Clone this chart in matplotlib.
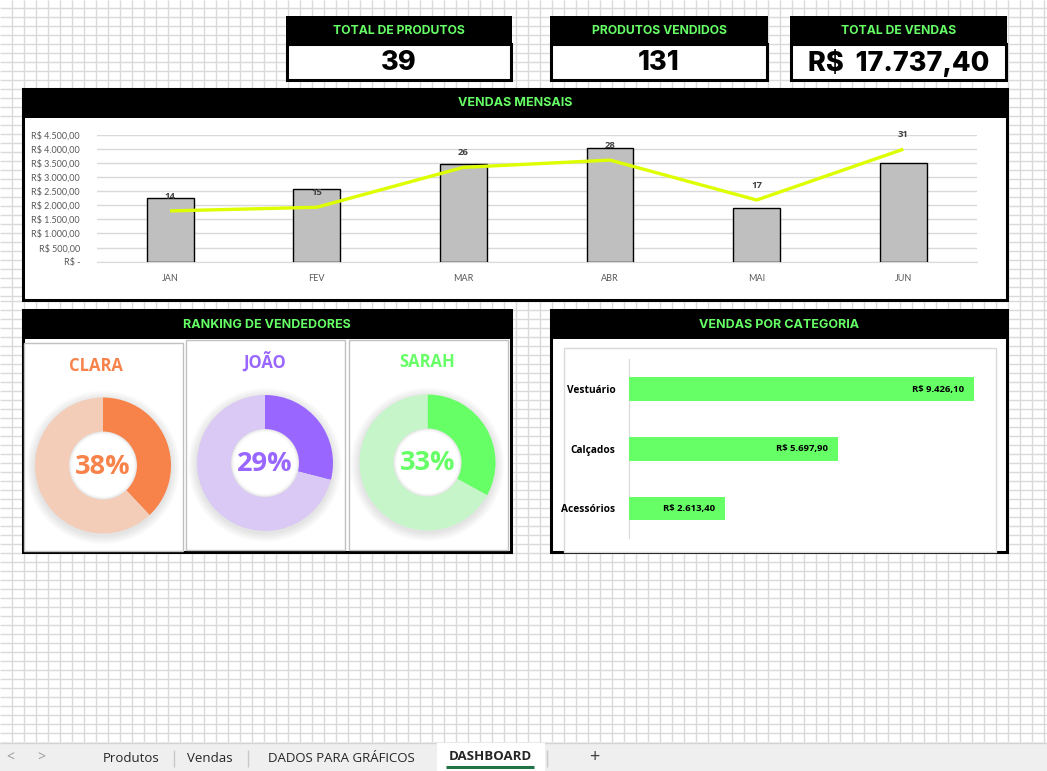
import matplotlib
matplotlib.use('Agg')
import matplotlib.pyplot as plt
from matplotlib.patches import Rectangle, Circle
import numpy as np

# ---------------- data ----------------
kpi_titles = ['TOTAL DE PRODUTOS', 'PRODUTOS VENDIDOS', 'TOTAL DE VENDAS']
kpi_values = ['39', '131', 'R$  17.737,40']

months = ['JAN', 'FEV', 'MAR', 'ABR', 'MAI', 'JUN']
monthly_sales = [2240.0, 2590.0, 3450.0, 4040.0, 1920.0, 3497.4]
monthly_qty = [14, 15, 26, 28, 17, 31]

sellers = ['CLARA', 'JOÃO', 'SARAH']
seller_pct = [38, 29, 33]

categories = ['Vestuário', 'Calçados', 'Acessórios']
category_sales = [9426.10, 5697.90, 2613.40]

sheet_tabs = ['Produtos', 'Vendas', 'DADOS PARA GRÁFICOS', 'DASHBOARD']

# ---------------- styles ----------------
W, H = 1047, 771
GREEN = '#66FF66'
HEAD_FONT = 'Inter'
BODY_FONT = 'Lato'
BOLD_FONT = 'Open Sans'
seller_dark = ['#F7834A', '#9966FF', '#66FF66']
seller_light = ['#F3CDB8', '#D9C9F4', '#C6F5C9']


def brl(v):
    s = f"{v:,.2f}"
    return 'R$ ' + s.replace(',', '#').replace('.', ',').replace('#', '.')


fig = plt.figure(figsize=(W / 100, H / 100), dpi=100)
bg = fig.add_axes([0, 0, 1, 1])
bg.set_xlim(0, W)
bg.set_ylim(H, 0)
bg.axis('off')


def px_axes(x0, y0, x1, y1):
    return fig.add_axes([x0 / W, 1 - y1 / H, (x1 - x0) / W, (y1 - y0) / H])


# Excel grid
GRID = '#dadada'
xs = np.arange(11.7, W, 12)
bg.vlines(xs, 0, 742, color=GRID, lw=1, zorder=0)
ys_top = np.arange(8, 305, 9)
ys_bot = np.arange(571, 742, 9)
ys_mid = np.arange(571 - 9, 300, -9)
bg.hlines(np.concatenate([ys_top, ys_mid, ys_bot]), 0, W, color=GRID, lw=1, zorder=0)


def rect(x0, y0, x1, y1, fc='white', ec='none', lw=0, z=2):
    bg.add_patch(Rectangle((x0, y0), x1 - x0, y1 - y0, facecolor=fc,
                           edgecolor=ec, lw=lw, zorder=z))


# ---------------- KPI boxes ----------------
kpi_x = [(287, 511), (551, 767), (791, 1006)]
for (x0, x1), t, v in zip(kpi_x, kpi_titles, kpi_values):
    rect(x0, 44, x1, 80, fc='white', ec='black', lw=2.2)
    rect(x0 - 1, 16, x1 + 1, 45, fc='black')
    bg.text((x0 + x1) / 2, 30.5, t, color=GREEN, fontsize=8.8, fontweight='bold',
            family=HEAD_FONT, ha='center', va='center', zorder=5)
    bg.text((x0 + x1) / 2, 63, v, color='black', fontsize=19.5, fontweight='heavy',
            family=HEAD_FONT, ha='center', va='center', zorder=5)

# ---------------- panels ----------------
panels = [((23, 89, 1007, 300), 'VENDAS MENSAIS'),
          ((23, 310, 511, 552), 'RANKING DE VENDEDORES'),
          ((551, 310, 1007, 552), 'VENDAS POR CATEGORIA')]
for (x0, y0, x1, y1), t in panels:
    rect(x0, y0, x1, y1, fc='white', ec='black', lw=2.2)
    rect(x0 - 1, y0 - 1, x1 + 1, y0 + 29, fc='black')
    bg.text((x0 + x1) / 2, y0 + 14.5, t, color=GREEN, fontsize=9, fontweight='bold',
            family=HEAD_FONT, ha='center', va='center', zorder=5)

# inner frames
rect(564, 348, 995.5, 552, fc='white', ec='#d9d9d9', lw=1, z=3)
cards = [(24, 343, 183, 551), (186, 340, 345, 550), (349, 340, 508, 550)]
for c in cards:
    rect(*c, fc='white', ec='#c0c0c0', lw=1, z=3)

# ---------------- monthly chart ----------------
ax = px_axes(96.7, 134.7, 976.7, 261.7)
ax.set_facecolor('none')
x = np.arange(len(months))
ax.bar(x, monthly_sales, width=0.32, color='#bfbfbf', edgecolor='black', lw=1, zorder=3)
ax.set_xlim(-0.5, len(months) - 0.5)
ax.set_ylim(0, 4500)
ticks = np.arange(0, 4501, 500)
ax.set_yticks(ticks)
ax.set_yticklabels(['R$ -' if t == 0 else brl(t) for t in ticks])
ax.grid(axis='y', color='#d9d9d9', lw=1, zorder=0)
ax.set_xticks(x)
ax.set_xticklabels(months)
ax.tick_params(axis='both', length=0, labelsize=6.5, labelcolor='#595959')
ax.tick_params(axis='y', pad=12)
ax.tick_params(axis='x', pad=9)
for lab in ax.get_xticklabels() + ax.get_yticklabels():
    lab.set_family(BODY_FONT)
for s in ['top', 'right', 'left']:
    ax.spines[s].set_visible(False)
ax.spines['bottom'].set_color('#d9d9d9')
ax2 = ax.twinx()
ax2.plot(x, monthly_qty, color='#DDFF00', lw=2.4, zorder=4, solid_capstyle='butt')
ax2.set_ylim(0, 35)
ax2.axis('off')
for xi, q in zip(x, monthly_qty):
    ax2.annotate(str(q), (xi, q), xytext=(0, 10.5), textcoords='offset points',
                 ha='center', va='center', fontsize=6.8, fontweight='bold',
                 color='#404040', family=BOLD_FONT, annotation_clip=False)

# ---------------- donuts ----------------
centers = [(103, 465.5), (265, 463), (427.5, 462.5)]
title_y = [366, 362, 362]
R, WID = 68, 34
for (cx, cy), ty, name, p, dk, lt in zip(centers, title_y, sellers, seller_pct,
                                         seller_dark, seller_light):
    a = px_axes(cx - 80, cy - 80, cx + 80, cy + 80)
    a.set_facecolor('none')
    # soft shadow
    for i in range(9, 0, -1):
        a.add_patch(Circle((0, -2), R + i, color='black', alpha=0.01, lw=0))
    a.pie([p, 100 - p], colors=[dk, lt], startangle=90, counterclock=False,
          radius=R, wedgeprops=dict(width=WID, lw=0))
    for i in range(1, 7):
        a.add_patch(Circle((0, 0), R - WID - i * 0.6, color='white', alpha=0.35, lw=0))
    a.add_patch(Circle((0, 0), R - WID - 3, color='white', lw=0))
    a.set_xlim(-80, 80)
    a.set_ylim(-80, 80)
    a.set_aspect('equal')
    a.axis('off')
    a.text(0, -1, f'{p}%', color=dk, fontsize=19.5, fontweight='bold',
           family=BOLD_FONT, ha='center', va='center')
    bg.text(cx - (7 if name == 'CLARA' else 0), ty, name, color=dk, fontsize=12,
            fontweight='bold', family=BOLD_FONT, ha='center', va='center', zorder=6)

# ---------------- category bars ----------------
scale = 0.03657  # px per R$
bx0, bx1 = 629.3, 985
ac = px_axes(bx0, 359.3, bx1, 538.3)
ac.set_facecolor('none')
yc = np.arange(len(categories))
ac.barh(yc, category_sales, height=0.4, color=GREEN, zorder=3)
ac.set_xlim(0, (bx1 - bx0) / scale)
ac.set_ylim(len(categories) - 0.5, -0.5)
ac.set_yticks(yc)
ac.set_yticklabels(categories)
ac.set_xticks([])
ac.tick_params(axis='y', length=0, pad=10, labelsize=7.3)
for lab in ac.get_yticklabels():
    lab.set_family(BOLD_FONT)
    lab.set_fontweight('bold')
for s in ['top', 'right', 'bottom']:
    ac.spines[s].set_visible(False)
ac.spines['left'].set_color('#d9d9d9')
for yi, v in zip(yc, category_sales):
    ac.annotate(brl(v), (v, yi), xytext=(-7, 0), textcoords='offset points',
                ha='right', va='center', fontsize=6.8, fontweight='bold',
                family=BOLD_FONT, color='black')

# ---------------- sheet tabs bar ----------------
rect(0, 742, W, 771, fc='#efefef', z=2)
bg.hlines(742.5, 0, W, color='#d4d4d4', lw=1, zorder=3)
rect(437, 743, 545, 771, fc='white', z=3)
bg.text(10, 758, '<', color='#9a9a9a', fontsize=10, ha='center', va='center',
        family='Open Sans', zorder=5)
bg.text(41, 758, '>', color='#9a9a9a', fontsize=10, ha='center', va='center',
        family='Open Sans', zorder=5)
tab_x = [131, 210, 341, 490]
for tx, name in zip(tab_x, sheet_tabs):
    bold = name == 'DASHBOARD'
    bg.text(tx, 756 if bold else 758.5, name, color='#262626', fontsize=9.5,
            fontweight='bold' if bold else 'normal', family='Open Sans',
            ha='center', va='center', zorder=5)
for sx in [174, 248, 547]:
    bg.vlines(sx, 750, 767, color='#c8c8c8', lw=1, zorder=4)
bg.hlines(767, 446, 534, color='#217346', lw=2.2, zorder=5)
bg.text(594, 757, '+', color='#404040', fontsize=13, ha='center', va='center',
        family='Open Sans', zorder=5)

fig.savefig('out.png', dpi=100)
